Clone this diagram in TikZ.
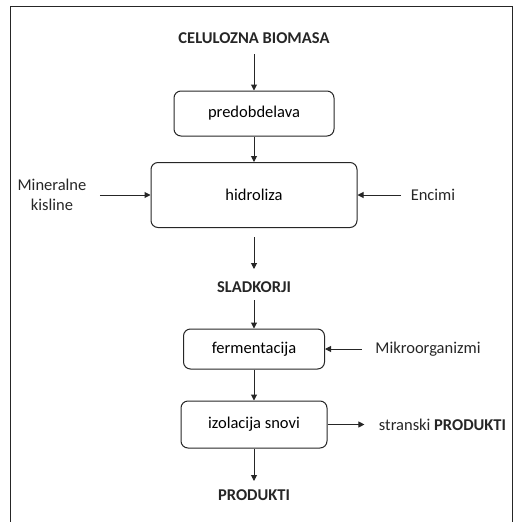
\documentclass[tikz,border=0pt]{standalone}
\usepackage{fontspec}
\setmainfont{Carlito}
\usetikzlibrary{arrows.meta,positioning}

\begin{document}
\begin{tikzpicture}[
    x=1pt, y=-1pt,
    process/.style={
      rectangle,
      rounded corners=7pt,
      draw=black!85,
      line width=1pt,
      font=\fontsize{16.5}{20}\selectfont
    },
    maintext/.style={font=\fontsize{16.5}{20}\selectfont\bfseries, text=black!85},
    sidetext/.style={font=\fontsize{16.5}{20}\selectfont, text=black!85, align=center},
    flow/.style={-{Triangle[width=6pt,length=6pt]}, line width=1pt, draw=black!85}
  ]

    % Frame
    \useasboundingbox (0,0) rectangle (517,522);
    \draw[line width=1pt, black!85] (10,522) -- (10,6) -- (512,6) -- (512,522);

    % Main chain
    \node[maintext] (biomasa) at (254,38) {CELULOZNA BIOMASA};
    \node[process, minimum width=160pt, minimum height=45pt] (predobdelava) at (254,113.5) {predobdelava};
    \node[process, minimum width=206pt, minimum height=65pt] (hidroliza) at (254,195) {hidroliza};
    \node[maintext] (sladkorji) at (254,287) {SLADKORJI};
    \node[process, minimum width=141pt, minimum height=40pt] (fermentacija) at (254,349) {fermentacija};
    \node[process, minimum width=146pt, minimum height=47pt] (izolacija) at (254,424.5) {izolacija snovi};
    \node[maintext] (produkti) at (254,495) {PRODUKTI};

    % Inputs and outputs at the side
    \node[sidetext] (mineralne) at (52,195) {Mineralne\\kisline};
    \node[sidetext] (encimi) at (433,195) {Encimi};
    \node[sidetext] (mikro) at (428,349) {Mikroorganizmi};
    \node[sidetext] (stranski) at (442.5,424.5) {stranski \textbf{PRODUKTI}};

    % Arrows
    \draw[flow, shorten <=7pt] (biomasa) -- (predobdelava);
    \draw[flow] (predobdelava) -- (hidroliza);
    \draw[flow, shorten <=9pt, shorten >=9pt] (hidroliza) -- (sladkorji);
    \draw[flow, shorten <=4pt] (sladkorji) -- (fermentacija);
    \draw[flow] (fermentacija) -- (izolacija);
    \draw[flow, shorten >=5pt] (izolacija) -- (produkti);

    \draw[flow, shorten <=10pt] (mineralne) -- (hidroliza);
    \draw[flow, shorten <=6pt] (encimi) -- (hidroliza);
    \draw[flow, shorten <=10pt] (mikro) -- (fermentacija);
    \draw[flow, shorten >=11pt] (izolacija) -- (stranski);

  \end{tikzpicture}
\end{document}
